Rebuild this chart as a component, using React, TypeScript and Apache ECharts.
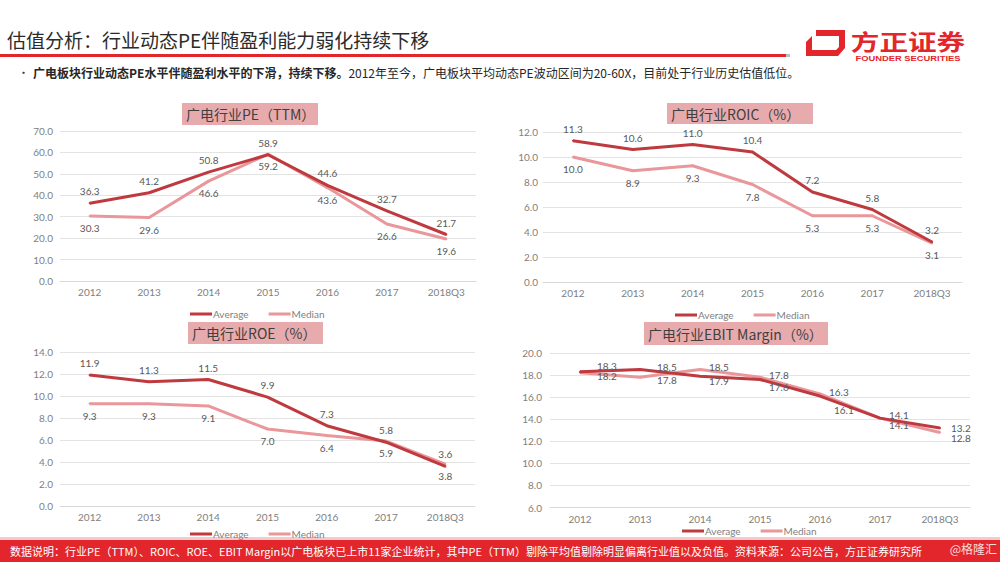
import React, { useEffect, useRef } from "react";
import * as echarts from "echarts";

const years = ["2012", "2013", "2014", "2015", "2016", "2017", "2018Q3"];
const peAvg = [36.3, 41.2, 50.8, 58.9, 44.6, 32.7, 21.7];
const peMed = [30.3, 29.6, 46.6, 59.2, 43.6, 26.6, 19.6];
const roicAvg = [11.3, 10.6, 11.0, 10.4, 7.2, 5.8, 3.2];
const roicMed = [10.0, 8.9, 9.3, 7.8, 5.3, 5.3, 3.1];
const roeAvg = [11.9, 11.3, 11.5, 9.9, 7.3, 5.8, 3.6];
const roeMed = [9.3, 9.3, 9.1, 7.0, 6.4, 5.9, 3.8];
const ebitAvg = [18.3, 18.5, 17.9, 17.6, 16.1, 14.1, 13.2];
const ebitMed = [18.2, 17.8, 18.5, 17.8, 16.3, 14.1, 12.8];
const seriesNames = ["Average", "Median"];

// label nudges for the crowded EBIT panel (style only, in pixels)
const ebitAvgNudge = [[13, -6], [13, -3], [5, 5], [5, 8], [10, 14], [5, -3], [7, 0]];
const ebitMedNudge = [[13, 3], [13, 3], [5, -3], [5, -2], [5, -2], [5, 7], [7, 6]];

const pageTitle = "估值分析：行业动态PE伴随盈利能力弱化持续下移";
const bulletBold = "广电板块行业动态PE水平伴随盈利水平的下滑，持续下移。";
const bulletRest = "2012年至今，广电板块平均动态PE波动区间为20-60X，目前处于行业历史估值低位。";
const footerText =
  "数据说明：行业PE（TTM）、ROIC、ROE、EBIT Margin以广电板块已上市11家企业统计，其中PE（TTM）剔除平均值剔除明显偏离行业值以及负值。资料来源：公司公告，方正证券研究所";

const AVG_COLOR = "#bf3a3e";
const MED_COLOR = "#e9979a";
const BOX_COLOR = "#e8abad";
const RED = "#e3262b";
const CJK = '"Noto Sans CJK SC", "Noto Sans", sans-serif';
const NUM = 'Lato, "Noto Sans", sans-serif';

const panels = [
  {
    title: "广电行业PE（TTM）", avg: peAvg, med: peMed, min: 0, max: 70, interval: 10,
    grid: { left: 60, top: 131, width: 416, height: 150 }, labelMargin: 7,
    box: [182, 103, 136, 22], legend: [190, 309], ebit: false,
  },
  {
    title: "广电行业ROIC（%）", avg: roicAvg, med: roicMed, min: 0, max: 12, interval: 2,
    grid: { left: 543, top: 132, width: 419, height: 150 }, labelMargin: 5,
    box: [667, 103, 146, 21], legend: [675, 310], ebit: false,
  },
  {
    title: "广电行业ROE（%）", avg: roeAvg, med: roeMed, min: 0, max: 14, interval: 2,
    grid: { left: 60, top: 352, width: 415, height: 154 }, labelMargin: 7,
    box: [188, 322, 135, 22], legend: [190, 529], ebit: false,
  },
  {
    title: "广电行业EBIT Margin（%）", avg: ebitAvg, med: ebitMed, min: 6, max: 20, interval: 2,
    grid: { left: 550, top: 353, width: 420, height: 154.5 }, labelMargin: 8,
    box: [644, 322, 184, 23], legend: [682, 526], ebit: true,
  },
];

function buildOption() {
  const grid: any[] = [];
  const xAxis: any[] = [];
  const yAxis: any[] = [];
  const series: any[] = [];
  const legend: any[] = [];
  const graphic: any[] = [];

  panels.forEach((p, i) => {
    grid.push({ ...p.grid, containLabel: false });
    xAxis.push({
      type: "category",
      gridIndex: i,
      data: years,
      boundaryGap: true,
      axisLine: { show: true, lineStyle: { color: "#d9d9d9", width: 1 } },
      axisTick: { show: false },
      axisLabel: { color: "#808080", fontSize: 10, fontFamily: NUM, margin: 6 },
    });
    yAxis.push({
      type: "value",
      gridIndex: i,
      min: p.min,
      max: p.max,
      interval: p.interval,
      axisLine: { show: false },
      axisTick: { show: false },
      splitLine: { lineStyle: { color: "#e3e3e3", width: 1 } },
      axisLabel: {
        color: "#808080",
        fontSize: 10,
        fontFamily: NUM,
        margin: p.labelMargin,
        formatter: (v: number) => v.toFixed(1),
      },
    });
    const mk = (name: string, values: number[], color: string, pos: string, z: number, nudge: number[][] | null) => {
      const data = nudge
        ? values.map((v, k) => ({ value: v, label: { offset: nudge[k] } }))
        : values;
      return {
        type: "line",
        name,
        xAxisIndex: i,
        yAxisIndex: i,
        data,
        symbol: "circle",
        symbolSize: 2,
        showSymbol: true,
        z,
        lineStyle: { color, width: 3 },
        itemStyle: { color },
        label: {
          show: true,
          position: p.ebit ? "right" : pos,
          distance: p.ebit ? 3 : 6,
          color: "#595959",
          fontSize: 10,
          fontFamily: NUM,
          formatter: (o: any) => Number(o.value).toFixed(1),
        },
      };
    };
    series.push(mk(seriesNames[0], p.avg, AVG_COLOR, "top", 3, p.ebit ? ebitAvgNudge : null));
    series.push(mk(seriesNames[1], p.med, MED_COLOR, "bottom", 2, p.ebit ? ebitMedNudge : null));

    legend.push({
      left: p.legend[0],
      top: p.legend[1],
      data: seriesNames,
      icon: "rect",
      itemWidth: 22,
      itemHeight: 3,
      itemGap: 20,
      selectedMode: false,
      padding: 0,
      textStyle: { color: "#7f7f7f", fontSize: 10, fontFamily: NUM, padding: [0, 0, 0, -4] },
    });

    graphic.push({
      type: "rect",
      shape: { x: p.box[0], y: p.box[1], width: p.box[2], height: p.box[3] },
      style: { fill: BOX_COLOR },
      z: 10,
    });
    graphic.push({
      type: "text",
      x: p.box[0] + 4,
      y: p.box[1] + p.box[3] / 2,
      z: 11,
      style: {
        text: p.title,
        fill: "#404040",
        fontSize: 14,
        fontFamily: CJK,
        textAlign: "left",
        textVerticalAlign: "middle",
      },
    });
  });

  // header
  graphic.push({
    type: "text",
    x: 7,
    y: 39,
    style: {
      text: pageTitle,
      fill: "#2b2b2b",
      fontSize: 19,
      fontFamily: CJK,
      textAlign: "left",
      textVerticalAlign: "middle",
    },
  });
  graphic.push({ type: "rect", shape: { x: 0, y: 54, width: 786, height: 3 }, style: { fill: RED } });
  graphic.push({ type: "rect", shape: { x: 786, y: 54, width: 4, height: 3 }, style: { fill: "#bdbdbd" } });

  // logo
  graphic.push({
    type: "polygon",
    shape: { points: [[816, 30], [845, 30], [845, 48], [838, 56], [806, 56], [806, 42], [812, 36], [812, 50], [836, 50], [839, 47], [839, 36], [816, 36]] },
    style: { fill: RED },
  });
  graphic.push({
    type: "text",
    x: 908,
    y: 40,
    scaleX: 1.3,
    style: {
      text: "方正证券",
      fill: RED,
      fontSize: 22,
      fontWeight: "bold",
      fontFamily: CJK,
      textAlign: "center",
      textVerticalAlign: "middle",
    },
  });
  graphic.push({
    type: "text",
    x: 908,
    y: 58,
    scaleX: 1.25,
    style: {
      text: "FOUNDER SECURITIES",
      fill: RED,
      fontSize: 7.5,
      fontWeight: "bold",
      fontFamily: '"Liberation Sans", Arial, sans-serif',
      textAlign: "center",
      textVerticalAlign: "middle",
    },
  });

  // bullet
  graphic.push({ type: "text", x: 18, y: 72, style: { text: "•", fill: "#404040", fontSize: 11, fontFamily: CJK, textAlign: "left", textVerticalAlign: "middle" } });
  graphic.push({
    type: "text",
    x: 33,
    y: 72,
    style: {
      text: "{b|" + bulletBold + "}{n|" + bulletRest + "}",
      textAlign: "left",
      textVerticalAlign: "middle",
      rich: {
        b: { fill: "#262626", fontSize: 12, fontWeight: "bold", fontFamily: CJK },
        n: { fill: "#262626", fontSize: 12, fontFamily: CJK },
      },
    },
  });

  // footer
  graphic.push({ type: "rect", shape: { x: 0, y: 537, width: 1000, height: 3 }, style: { fill: "#f6caca" } });
  graphic.push({ type: "rect", shape: { x: 0, y: 540, width: 1000, height: 22 }, style: { fill: RED } });
  graphic.push({
    type: "text",
    x: 10,
    y: 551,
    style: {
      text: footerText,
      fill: "#ffffff",
      fontSize: 11,
      fontFamily: CJK,
      textAlign: "left",
      textVerticalAlign: "middle",
    },
  });
  graphic.push({
    type: "text",
    x: 997,
    y: 548,
    style: {
      text: "@格隆汇",
      fill: "rgba(255,255,255,0.85)",
      fontSize: 12,
      fontFamily: CJK,
      textAlign: "right",
      textVerticalAlign: "middle",
    },
  });

  return {
    animation: false,
    backgroundColor: "#ffffff",
    grid,
    xAxis,
    yAxis,
    series,
    legend,
    graphic,
  };
}

export default function App() {
  const ref = useRef<HTMLDivElement>(null);
  useEffect(() => {
    if (!ref.current) return;
    const chart = echarts.init(ref.current, null, { renderer: "svg" });
    chart.setOption(buildOption() as any);
    return () => chart.dispose();
  }, []);
  return (
    <div
      ref={ref}
      style={{ position: "fixed", left: 0, top: 0, width: 1000, height: 562, background: "#fff" }}
    />
  );
}
